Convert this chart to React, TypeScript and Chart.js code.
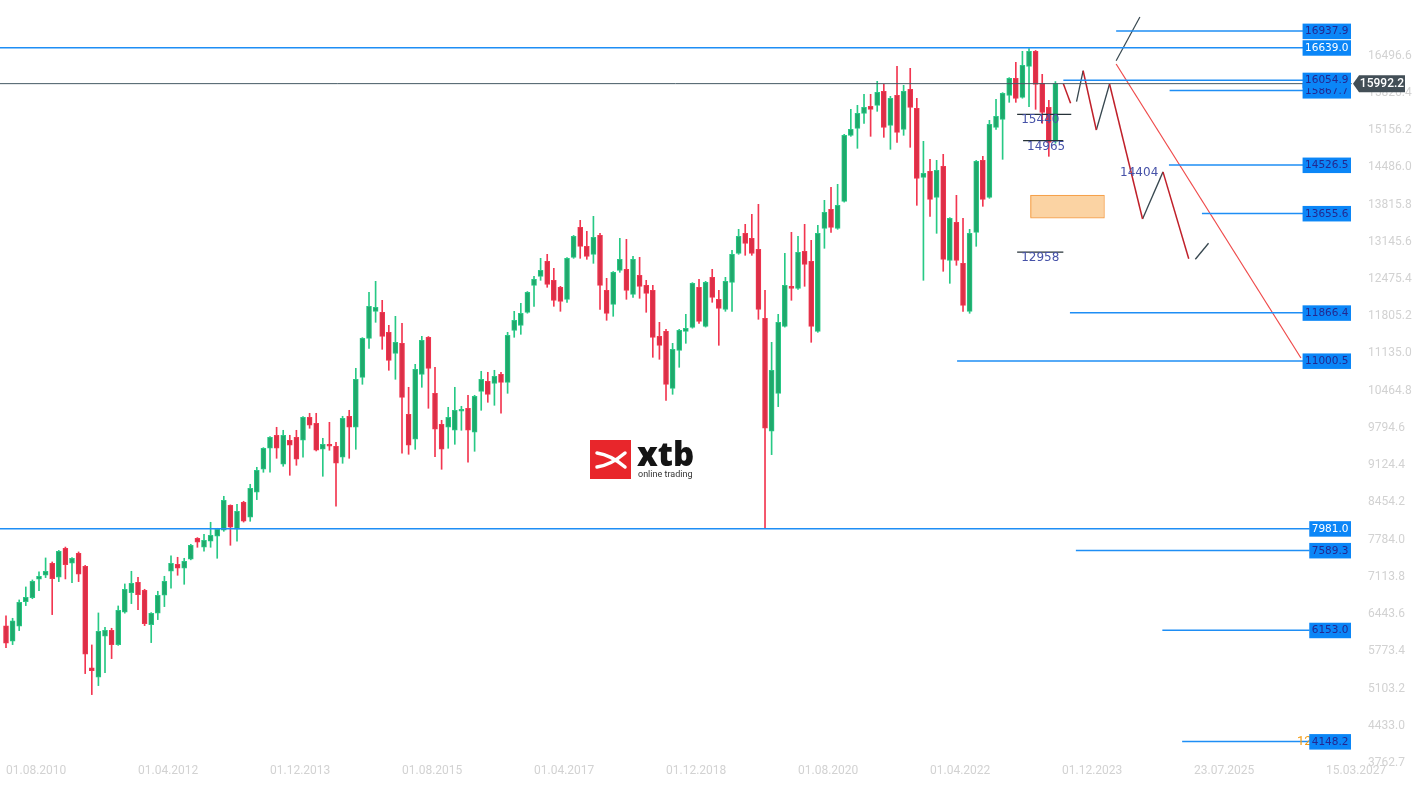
import React, { useEffect, useRef } from 'react';
import { Chart, registerables } from 'chart.js';

Chart.register(...registerables);

// Monthly candles, first candle = 08.2010 (index 0), last = 11.2023
const OPEN = [
  6230, 5954, 6224, 6668, 6740, 7070, 7142, 7358, 7106, 7628, 7358, 7538, 7304, 5474, 5306, 6044, 6152, 5894, 6476, 6830,
  7016, 6872, 6254, 6458, 6782, 7214, 7340, 7268, 7430, 7808, 7646, 7754, 7844, 7952, 8402, 7970, 8456, 8186, 8636, 9050,
  9428, 9662, 9140, 9572, 9626, 9572, 9986, 9878, 9410, 9500, 9464, 9266, 10004, 9806, 10706, 11408, 11894, 11876, 11516, 11138,
  11318, 10040, 9590, 10760, 11426, 10418, 9860, 9806, 9752, 10094, 10148, 9716, 10454, 10634, 10598, 10760, 10616, 11552, 11642, 11876,
  12362, 12524, 12794, 12452, 12326, 12110, 12866, 13406, 13064, 12920, 13262, 12272, 12020, 12632, 12650, 12200, 12542, 12362, 12272, 11444,
  11534, 10508, 11192, 11534, 11606, 12326, 11624, 12506, 12110, 11930, 12416, 12938, 13298, 13208, 13010, 11768, 9734, 10418, 11624, 12344,
  12308, 12974, 12794, 11534, 13388, 13730, 13388, 13874, 15062, 15188, 15458, 15584, 15602, 15854, 15242, 15782, 15170, 15890, 15548, 14306,
  14414, 13946, 14504, 12812, 13496, 12758, 11894, 13316, 14612, 13946, 15206, 15350, 15782, 16088, 15746, 16304, 16574, 15998, 15566, 14954
];
const HIGH = [
  6410, 6368, 6698, 6932, 7058, 7202, 7454, 7382, 7590, 7650, 7460, 7562, 7320, 5888, 6464, 6206, 6188, 6590, 6986, 7214,
  7106, 6890, 6470, 6854, 7124, 7490, 7466, 7448, 7700, 7820, 7880, 8096, 7988, 8564, 8410, 8420, 8474, 8780, 9086, 9440,
  9640, 9806, 9752, 9662, 9752, 10000, 10058, 10058, 9608, 9896, 9536, 10004, 10112, 10868, 11420, 12236, 12434, 12092, 11642, 11804,
  11678, 10526, 10940, 11444, 11440, 10886, 9932, 10166, 10526, 10184, 10382, 10382, 10814, 10796, 10832, 10796, 11516, 11894, 12038, 12250,
  12524, 12848, 12920, 12668, 12344, 12860, 13260, 13532, 13334, 13604, 13298, 12488, 12610, 13208, 13190, 12884, 12866, 12452, 12362, 11696,
  11570, 11318, 11570, 11840, 12410, 12470, 12434, 12650, 12272, 12506, 12992, 13370, 13460, 13640, 13820, 12272, 11336, 11840, 12938, 13316,
  13244, 13460, 13172, 13442, 13892, 14126, 14180, 15080, 15530, 15602, 15800, 15800, 16034, 15980, 15764, 16304, 15962, 16268, 15728, 14954,
  14630, 14612, 14720, 13580, 13982, 13568, 13370, 14610, 14684, 15332, 15710, 15830, 16100, 16376, 16574, 16622, 16590, 16160, 15692, 16030
];
const LOW = [
  5840, 5894, 6146, 6596, 6720, 6866, 7100, 6434, 7028, 7076, 7010, 7028, 5372, 4994, 5156, 5390, 5642, 5880, 6460, 6632,
  6524, 6236, 5930, 6344, 6578, 6908, 7142, 6980, 7420, 7646, 7574, 7646, 7448, 7934, 7682, 7754, 8100, 8114, 8504, 8996,
  8996, 9248, 9104, 8942, 9122, 9266, 9788, 9380, 8924, 9392, 8384, 9158, 9248, 9410, 10580, 11228, 11696, 11210, 10832, 10670,
  9338, 9320, 9410, 10526, 10148, 9278, 9050, 9428, 9500, 9752, 9176, 9374, 10112, 10256, 10202, 10058, 10418, 11426, 11480, 11860,
  11984, 12452, 12326, 11984, 11894, 12056, 12848, 12848, 12830, 12758, 11930, 11732, 11804, 12596, 12110, 12146, 12128, 11876, 11066, 11030,
  10292, 10400, 10886, 11318, 11590, 11678, 11610, 12056, 11282, 11894, 11894, 12920, 12902, 12902, 11750, 7981, 9314, 10178, 11610, 12092,
  12290, 12344, 11336, 11516, 13028, 13316, 13370, 13860, 15044, 14828, 15278, 15044, 15494, 15026, 14810, 14936, 15062, 14846, 13802, 12452,
  13604, 13298, 12614, 12398, 12722, 11894, 11858, 13064, 13784, 13928, 15170, 14630, 15656, 15656, 15730, 15578, 15530, 15278, 14684, 14918
];
const CLOSE = [
  5918, 6320, 6656, 6746, 7034, 7124, 7214, 7082, 7574, 7334, 7448, 7160, 5720, 5426, 6134, 6152, 5894, 6512, 6890, 6998,
  6794, 6272, 6458, 6782, 7034, 7358, 7268, 7394, 7682, 7736, 7772, 7862, 7970, 8492, 8006, 8294, 8114, 8708, 9032, 9428,
  9626, 9428, 9662, 9482, 9230, 9986, 9842, 9392, 9500, 9464, 9158, 9968, 9806, 10670, 11408, 11984, 11966, 11444, 11012, 11336,
  10346, 9482, 10850, 11372, 10868, 9770, 9410, 9986, 10112, 10130, 9752, 10364, 10670, 10400, 10724, 10616, 11462, 11732, 11858, 12236,
  12470, 12632, 12380, 12092, 12074, 12848, 13244, 13064, 12884, 13226, 12362, 11858, 12596, 12830, 12272, 12830, 12344, 12218, 11426, 11282,
  10580, 11210, 11552, 11588, 12398, 11714, 12416, 12146, 11948, 12434, 12920, 13244, 13118, 12938, 11930, 9788, 10832, 11696, 12362, 12308,
  12956, 12740, 11624, 13298, 13676, 13406, 13802, 15062, 15170, 15458, 15566, 15530, 15836, 15206, 15728, 15116, 15854, 15566, 14288, 14378,
  13910, 14432, 12830, 13568, 12812, 12002, 13298, 14594, 13910, 15260, 15404, 15818, 16088, 15728, 16322, 16574, 15980, 15476, 14936, 15992.2
];

// Axes
const X_TICKS = [0, 20, 40, 60, 80, 100, 120, 140, 160, 180, 200];
const X_LABELS = ['01.08.2010', '01.04.2012', '01.12.2013', '01.08.2015', '01.04.2017', '01.12.2018', '01.08.2020', '01.04.2022', '01.12.2023', '23.07.2025', '15.03.2027'];
const Y_TICKS = [3762.7, 4433.0, 5103.2, 5773.4, 6443.6, 7113.8, 7784.0, 8454.2, 9124.4, 9794.6, 10464.8, 11135.0, 11805.2, 12475.4, 13145.6, 13815.8, 14486.0, 15156.2, 15826.4, 16496.6];
const X_MIN = -0.909;
const X_MAX = 204.39;
const Y_MIN = 3762.7;
const Y_MAX = 17498;

// Horizontal levels with label boxes
const LEVELS = [16937.9, 16639.0, 16054.9, 15867.7, 14526.5, 13655.6, 11866.4, 11000.5, 7981.0, 7589.3, 6153.0, 4148.2];
const LEVEL_START = [168.2, -1, 160.2, 176.3, 176.2, 181.2, 161.2, 144.1, -1, 162.1, 175.2, 178.2];
const LEVEL_WHITE_TEXT = [false, true, false, false, false, false, false, false, true, false, false, false];
const LEVEL_END = 197.5;

const CURRENT_PRICE = 15992.2;
const CURRENT_END = 203.9;

// Short black marks with values
const MARK_VALUES = [15440, 14965, 12958];
const MARK_START = [153.2, 154.1, 153.2];
const MARK_END = [161.4, 160.2, 160.2];

// Projection zig-zag
const PROJ_X = [160.2, 161.3, 162.2, 163.2, 165.2, 167.2, 172.2, 175.3, 179.2, 180.2, 182.2];
const PROJ_Y = [15992.2, 15639, 15667, 16225, 15158, 15986, 13556, 14404, 12841, 12831, 13119];
const PROJ_RED = [[0, 1], [3, 4], [5, 6], [7, 8]];
const PROJ_DARK = [[2, 3], [4, 5], [6, 7], [9, 10]];
const PEAK_LABEL = 14404;
const PEAK_LABEL_X = 168.8;

const UP_LINE_X = [168.2, 171.8];
const UP_LINE_Y = [16405, 17192];
const DIAG_X = [168.2, 196.2];
const DIAG_Y = [16346, 11054];

// Orange zone
const ZONE_X = [155.2, 166.3];
const ZONE_Y = [13587, 13988];

const GREEN_FILL = '#1fa96c';
const GREEN_LINE = '#27c985';
const RED_FILL = '#dc2f47';
const RED_LINE = '#f23650';

function seg(x0: number, y0: number, x1: number, y1: number, color: string, width: number): any {
  return {
    type: 'line',
    data: [{ x: x0, y: y0 }, { x: x1, y: y1 }],
    borderColor: color,
    borderWidth: width,
    pointRadius: 0,
    fill: false,
    tension: 0,
    order: 1,
  };
}

const overlay = {
  id: 'overlay',
  beforeDatasetsDraw(chart: any) {
    const ctx = chart.ctx;
    ctx.save();
    // xtb watermark logo
    ctx.fillStyle = '#e8262b';
    ctx.fillRect(590, 440, 41, 39);
    ctx.strokeStyle = '#ffffff';
    ctx.lineCap = 'round';
    ctx.lineWidth = 3.5;
    ctx.beginPath();
    ctx.moveTo(597, 453);
    ctx.quadraticCurveTo(611, 455, 625, 467);
    ctx.moveTo(597, 467);
    ctx.quadraticCurveTo(611, 465, 625, 453);
    ctx.stroke();
    ctx.fillStyle = '#141414';
    ctx.font = '800 33px "Open Sans"';
    ctx.textBaseline = 'alphabetic';
    ctx.textAlign = 'left';
    ctx.fillText('xtb', 637, 466);
    ctx.fillStyle = '#333333';
    ctx.font = '9px Roboto';
    ctx.fillText('online trading', 638, 477);

    // orange zone
    const xs = chart.scales.x;
    const ys = chart.scales.y;
    const zx0 = xs.getPixelForValue(ZONE_X[0]);
    const zx1 = xs.getPixelForValue(ZONE_X[1]);
    const zy0 = ys.getPixelForValue(ZONE_Y[1]);
    const zy1 = ys.getPixelForValue(ZONE_Y[0]);
    ctx.fillStyle = 'rgba(250, 200, 140, 0.8)';
    ctx.fillRect(zx0, zy0, zx1 - zx0, zy1 - zy0);
    ctx.strokeStyle = '#f5a04a';
    ctx.lineWidth = 1;
    ctx.strokeRect(zx0 + 0.5, zy0 + 0.5, zx1 - zx0, zy1 - zy0);
    ctx.restore();
  },
  afterDraw(chart: any) {
    const ctx = chart.ctx;
    const xs = chart.scales.x;
    const ys = chart.scales.y;
    const area = chart.chartArea;
    ctx.save();

    // mark labels
    ctx.font = '12px "DejaVu Sans"';
    ctx.fillStyle = '#4652a8';
    ctx.textAlign = 'left';
    ctx.textBaseline = 'top';
    MARK_VALUES.forEach((v, i) => {
      const x = xs.getPixelForValue(MARK_START[i]) + 4;
      const y = ys.getPixelForValue(v);
      ctx.fillText(String(v), x, y);
    });
    ctx.textBaseline = 'middle';
    ctx.fillText(String(PEAK_LABEL), xs.getPixelForValue(PEAK_LABEL_X), ys.getPixelForValue(PEAK_LABEL) + 1);

    // hidden orange label behind the lowest box
    ctx.font = '13px Roboto';
    ctx.fillStyle = '#f39c12';
    ctx.fillText('12', area.right - 58, ys.getPixelForValue(LEVELS[LEVELS.length - 1]) + 0.5);

    // level boxes
    ctx.font = '10.5px "DejaVu Sans"';
    const order = LEVELS.map((_, i) => i).sort((a, b) => LEVELS[a] - LEVELS[b]);
    order.forEach((i) => {
      const v = LEVELS[i];
      const y = ys.getPixelForValue(v);
      const txt = v.toFixed(1);
      const w = ctx.measureText(txt).width + 5;
      const right = area.right - 4;
      ctx.fillStyle = '#0b86f7';
      ctx.fillRect(right - w, y - 7.5, w, 15.5);
      ctx.fillStyle = LEVEL_WHITE_TEXT[i] ? '#ffffff' : '#24288f';
      ctx.textBaseline = 'middle';
      ctx.fillText(txt, right - w + 2.5, y + 0.5);
    });

    // current price tag
    const py = ys.getPixelForValue(CURRENT_PRICE);
    const tipX = area.right - 2;
    ctx.fillStyle = '#434f57';
    ctx.beginPath();
    ctx.moveTo(tipX, py);
    ctx.lineTo(tipX + 6, py - 8.5);
    ctx.lineTo(tipX + 52, py - 8.5);
    ctx.lineTo(tipX + 52, py + 8.5);
    ctx.lineTo(tipX + 6, py + 8.5);
    ctx.closePath();
    ctx.fill();
    ctx.fillStyle = '#ffffff';
    ctx.font = '500 12px Roboto';
    ctx.textAlign = 'center';
    ctx.textBaseline = 'middle';
    ctx.fillText(CURRENT_PRICE.toFixed(1), tipX + 29, py + 0.5);
    ctx.restore();
  },
};

export default function App() {
  const ref = useRef<HTMLCanvasElement | null>(null);

  useEffect(() => {
    if (!ref.current) return;
    const idx = OPEN.map((_, i) => i);
    const up = idx.map((i) => CLOSE[i] >= OPEN[i]);

    const datasets: any[] = [];
    // levels
    LEVELS.forEach((v, i) => {
      datasets.push(seg(LEVEL_START[i], v, LEVEL_END, v, '#1e8ef5', 1.5));
    });
    datasets.push(seg(X_MIN - 1, CURRENT_PRICE, CURRENT_END, CURRENT_PRICE, '#455a64', 1));
    MARK_VALUES.forEach((v, i) => {
      datasets.push(seg(MARK_START[i], v, MARK_END[i], v, '#263238', 1.2));
    });
    PROJ_RED.forEach(([a, b]) => datasets.push(seg(PROJ_X[a], PROJ_Y[a], PROJ_X[b], PROJ_Y[b], '#c0202a', 1.5)));
    PROJ_DARK.forEach(([a, b]) => datasets.push(seg(PROJ_X[a], PROJ_Y[a], PROJ_X[b], PROJ_Y[b], '#37474f', 1.3)));
    datasets.push(seg(UP_LINE_X[0], UP_LINE_Y[0], UP_LINE_X[1], UP_LINE_Y[1], '#37474f', 1.2));
    datasets.push(seg(DIAG_X[0], DIAG_Y[0], DIAG_X[1], DIAG_Y[1], '#ef4a4a', 1.2));

    datasets.push({
      type: 'bar',
      data: idx.map((i) => ({ x: i, y: [LOW[i], HIGH[i]] })),
      backgroundColor: idx.map((i) => (up[i] ? GREEN_LINE : RED_LINE)),
      borderWidth: 0,
      barThickness: 1,
      grouped: false,
      order: 3,
    });
    datasets.push({
      type: 'bar',
      data: idx.map((i) => ({ x: i, y: [OPEN[i], CLOSE[i]] })),
      backgroundColor: idx.map((i) => (up[i] ? GREEN_FILL : RED_FILL)),
      borderColor: idx.map((i) => (up[i] ? GREEN_LINE : RED_LINE)),
      borderWidth: 1,
      borderSkipped: false,
      barThickness: 5,
      minBarLength: 2,
      grouped: false,
      order: 2,
    });

    const chart = new Chart(ref.current, {
      type: 'bar',
      data: { datasets },
      options: {
        animation: false,
        responsive: false,
        events: [],
        layout: { padding: 0 },
        plugins: { legend: { display: false }, tooltip: { enabled: false } },
        scales: {
          x: {
            type: 'linear',
            min: X_MIN,
            max: X_MAX,
            offset: false,
            grid: { display: false },
            border: { display: false },
            afterBuildTicks: (s: any) => {
              s.ticks = X_TICKS.map((v) => ({ value: v }));
            },
            afterFit: (s: any) => {
              s.height = 24;
              s.paddingLeft = 0;
              s.paddingRight = 0;
              s.paddingTop = 0;
              s.paddingBottom = 0;
            },
            ticks: {
              autoSkip: false,
              maxRotation: 0,
              minRotation: 0,
              align: 'start',
              padding: -7,
              color: '#d2d2d2',
              font: { family: 'Roboto', size: 12 },
              callback: (_v: any, i: number) => X_LABELS[i],
            },
          },
          y: {
            type: 'linear',
            position: 'right',
            min: Y_MIN,
            max: Y_MAX,
            grid: { display: false },
            border: { display: false },
            afterBuildTicks: (s: any) => {
              s.ticks = Y_TICKS.map((v) => ({ value: v }));
            },
            afterFit: (s: any) => {
              s.width = 64;
              s.paddingTop = 0;
              s.paddingBottom = 0;
              s.paddingLeft = 0;
              s.paddingRight = 0;
            },
            ticks: {
              autoSkip: false,
              padding: 5,
              color: '#d2d2d2',
              font: { family: 'Roboto', size: 12 },
              callback: (v: any) => Number(v).toFixed(1),
            },
          },
        },
      } as any,
      plugins: [overlay],
    });
    return () => chart.destroy();
  }, []);

  return (
    <div style={{ position: 'fixed', left: 0, top: 0, width: 1419, height: 787, background: '#ffffff' }}>
      <canvas ref={ref} width={1419} height={787} style={{ display: 'block' }} />
    </div>
  );
}
